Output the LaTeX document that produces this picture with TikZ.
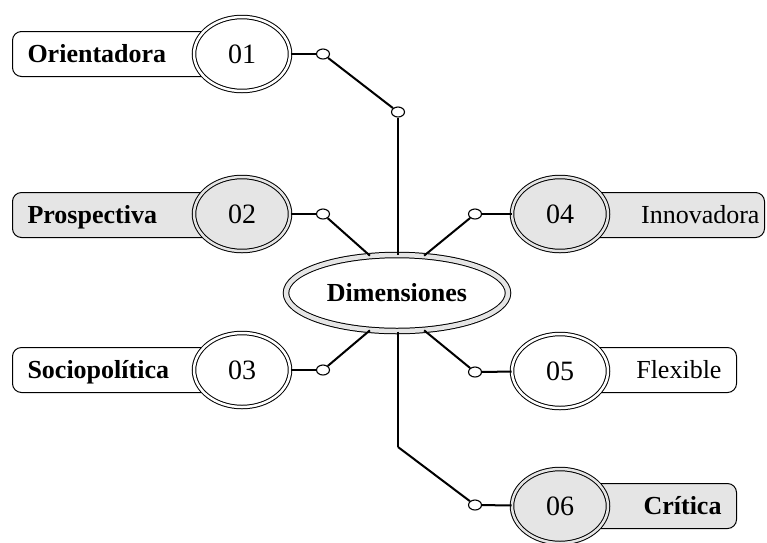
\documentclass[tikz,border=0pt]{standalone}
\usepackage{fontspec}
\setmainfont{Liberation Serif}
\usetikzlibrary{shapes.geometric}
\definecolor{ringgray}{gray}{0.9}
\tikzset{
  tagbox/.style={draw, rounded corners=9pt, line width=1pt, minimum height=45pt,
    inner xsep=15pt, inner ysep=0pt, text height=20pt, text depth=2.5pt,
    font=\fontsize{26}{30}\selectfont},
  lefttag/.style={tagbox, anchor=west, text width=190pt, align=left},
  righttag/.style={tagbox, anchor=east, text width=120pt, align=right},
  numring/.style={ellipse, draw, line width=1pt, double=#1, double distance=2.5pt,
    fill=#1, minimum width=96pt, minimum height=74pt, inner sep=0pt,
    font=\fontsize{28}{32}\selectfont},
  hub/.style={ellipse, draw, line width=1pt, double=ringgray, double distance=4.5pt,
    fill=white, minimum width=222pt, minimum height=76pt, inner sep=0pt,
    font=\fontsize{26}{30}\selectfont\bfseries},
  joint/.style={ellipse, draw, line width=1.1pt, fill=white, minimum width=13pt,
    minimum height=10pt, inner sep=0pt},
  wire/.style={line width=2pt}
}
\begin{document}
\begin{tikzpicture}[x=1pt,y=-1pt]
\useasboundingbox (0,0) rectangle (767,542);
%
\node[lefttag](orient) at (12,54) {\textbf{Orientadora}};
\node[lefttag, fill=ringgray](prosp) at (12,215) {\textbf{Prospectiva}};
\node[lefttag](socio) at (12,370) {\textbf{Sociopolítica}};
\node[righttag, fill=ringgray, text width=170pt, inner xsep=5pt](innov) at (765,215) {Innovadora};
\node[righttag](flex) at (737,370) {Flexible};
\node[righttag, fill=ringgray](crit) at (737,506) {\textbf{Crítica}};
%
\node[numring=white](n01) at (242,54) {01};
\node[numring=ringgray](n02) at (242,214) {02};
\node[numring=white](n03) at (242,370) {03};
\node[numring=ringgray](n04) at (560,214) {04};
\node[numring=white](n05) at (560,371) {05};
\node[numring=ringgray](n06) at (560,506) {06};
%
\node[hub](dim) at (397,293) {Dimensiones};
%
\node[joint](j01) at (323,54) {};
\node[joint](jtop) at (398,112) {};
\node[joint](j02) at (323,214) {};
\node[joint](j03) at (323,370) {};
\node[joint](j04) at (475,214) {};
\node[joint](j05) at (475,372) {};
\node[joint](j06) at (475,505) {};
\coordinate(bend) at (398,447);
%
\draw[wire](n01) -- (j01);
\draw[wire](j01) -- (jtop);
\draw[wire](jtop) -- (jtop |- dim.north);
%
\draw[wire](n02) -- (j02);
\draw[wire](j02) -- (dim.126);
%
\draw[wire](n03) -- (j03);
\draw[wire](j03) -- (dim.234);
%
\draw[wire](n04) -- (j04);
\draw[wire](j04) -- (dim.54);
%
\draw[wire](n05) -- (j05);
\draw[wire](j05) -- (dim.306);
%
\draw[wire](bend |- dim.south) -- (bend);
\draw[wire](bend) -- (j06);
\draw[wire](n06) -- (j06);
\end{tikzpicture}
\end{document}
